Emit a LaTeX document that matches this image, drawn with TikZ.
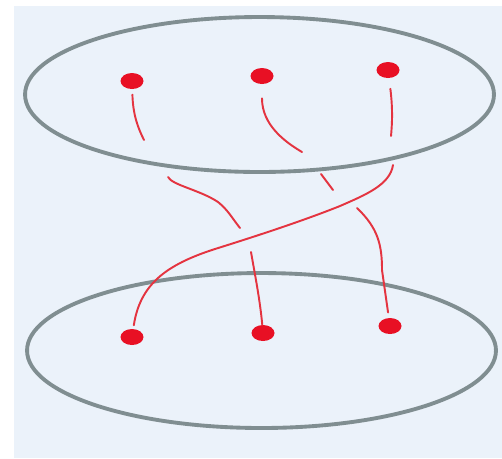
\documentclass[tikz,border=0pt]{standalone}
\usepackage{xcolor}
\usepackage{tikz}
\usetikzlibrary{shapes.geometric}

\definecolor{paper}{RGB}{235,242,250}
\definecolor{rimgray}{RGB}{128,142,145}
\definecolor{beadred}{RGB}{232,16,36}
\definecolor{strandred}{RGB}{228,52,64}

\begin{document}
\begin{tikzpicture}[
  x=0.02cm, y=-0.02cm,
  bead/.style={ellipse, fill=beadred, inner sep=0pt, minimum width=0.46cm, minimum height=0.32cm},
  rim/.style={draw=rimgray, line width=2.2pt},
  strand/.style={draw=strandred, line width=1.1pt, line cap=round},
]

\useasboundingbox (0,0) rectangle (502,458);
\fill[paper] (14,6) rectangle (502,458);

%% Discs
\draw[rim] (259.5,94.5)  ellipse [x radius=4.69cm, y radius=1.55cm];
\draw[rim] (261.5,350.5) ellipse [x radius=4.69cm, y radius=1.55cm];

%% Beads, upper disc
\node[bead] (t1) at (132,81) {};
\node[bead] (t2) at (262,76) {};
\node[bead] (t3) at (388,70) {};

%% Beads, lower disc
\node[bead] (b1) at (132,337) {};
\node[bead] (b2) at (263,333) {};
\node[bead] (b3) at (390,326) {};

%% Where the strands break off and pick up again
\coordinate (a1) at (144,140);
\coordinate (a2) at (168,177);
\coordinate (a3) at (240,228);
\coordinate (a4) at (251,252);

\coordinate (m1) at (302,152);
\coordinate (m2) at (321,174);
\coordinate (m3) at (333,190);
\coordinate (m4) at (357,208);

\coordinate (c1) at (391,136);
\coordinate (c2) at (393,165);

%% t1 -> b2 (goes under)
\draw[strand, shorten <=3pt] (t1) .. controls (133,115) and (138,128) .. (a1);
\draw[strand] (a2) .. controls (172,185) and (200,190) .. (218,202)
                   .. controls (228,210) and (232,218) .. (a3);
\draw[strand] (a4) .. controls (255,275) and (260,300) .. (b2);

%% t2 -> b3 (goes under)
\draw[strand, shorten <=8pt] (t2) .. controls (262,125) and (285,142) .. (m1);
\draw[strand] (m2) -- (m3);
\draw[strand, shorten >=3pt] (m4) .. controls (378,228) and (382,245) .. (382,270)
                                  -- (b3);

%% t3 -> b1 (goes over)
\draw[strand, shorten <=6pt] (t3) .. controls (393,110) and (392,125) .. (c1);
\draw[strand, shorten >=2pt] (c2) .. controls (390,185) and (365,195) .. (340,206)
                                  .. controls (300,222) and (250,238) .. (215,249)
                                  .. controls (165,265) and (140,285) .. (b1);

\end{tikzpicture}
\end{document}
